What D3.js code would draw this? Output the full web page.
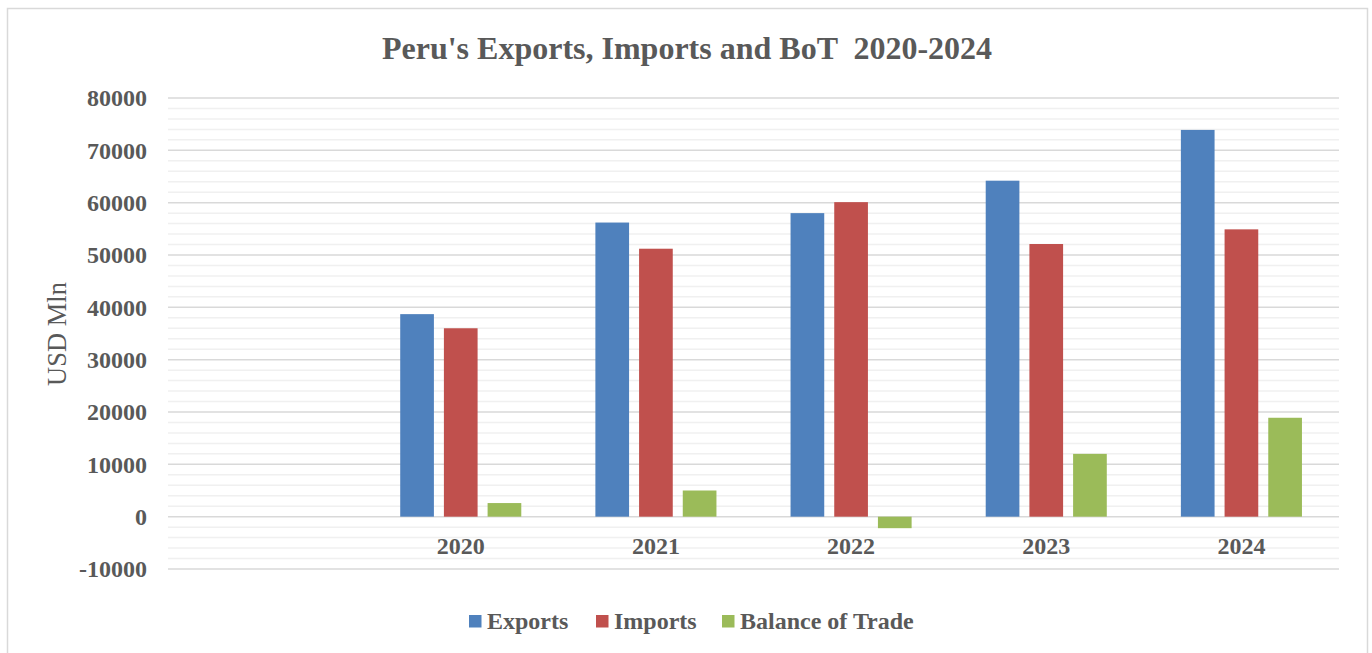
<!DOCTYPE html>
<html><head><meta charset="utf-8">
<script src="https://cdn.jsdelivr.net/npm/d3@7"></script>
<style>
html,body{margin:0;padding:0;background:#fff;}
svg text{font-family:"Liberation Serif","Times New Roman",serif;fill:#595959;}
</style></head>
<body>
<svg id="chart" width="1372" height="653"></svg>
<script>
const categories = ["", "2020", "2021", "2022", "2023", "2024"];
const seriesNames = ["Exports", "Imports", "Balance of Trade"];
const exportsVals = [null, 38700, 56200, 58000, 64200, 73900];
const importsVals = [null, 36000, 51200, 60100, 52100, 54900];
const botVals = [null, 2600, 5000, -2200, 12000, 18900];
const yTicks = [-10000, 0, 10000, 20000, 30000, 40000, 50000, 60000, 70000, 80000];
const colors = ["#4f81bd", "#c0504d", "#9bbb59"];

const svg = d3.select("#chart");
const W = 1372, H = 653;
const m = {left: 168, right: 33, top: 98, bottom: 83};
const pw = W - m.left - m.right, ph = H - m.top - m.bottom;

// outer border
svg.append("rect").attr("x", 7.5).attr("y", 8.5).attr("width", 1360).attr("height", 660)
  .attr("fill", "#fff").attr("stroke", "#d9d9d9").attr("stroke-width", 1.5);

const x = d3.scaleBand().domain(categories).range([m.left, m.left + pw]).paddingInner(0).paddingOuter(0);
const y = d3.scaleLinear().domain([-10000, 80000]).range([m.top + ph - 1, m.top]);
const xs = d3.scaleBand().domain(seriesNames).range([0, x.bandwidth()]).paddingOuter(0.848).paddingInner(0.229);

const g = svg.append("g");
// minor gridlines
const minor = d3.range(-10000, 80001, 2000).filter(v => v % 10000 !== 0);
g.selectAll(".minor").data(minor).enter().append("line")
  .attr("x1", m.left).attr("x2", m.left + pw)
  .attr("y1", d => y(d)).attr("y2", d => y(d))
  .attr("stroke", "#f0f0f0").attr("stroke-width", 1.5);
// major gridlines
g.selectAll(".major").data(yTicks).enter().append("line")
  .attr("x1", m.left).attr("x2", m.left + pw)
  .attr("y1", d => y(d)).attr("y2", d => y(d))
  .attr("stroke", "#d9d9d9").attr("stroke-width", 1.5);

// y axis labels
const yAxis = d3.axisLeft(y).tickValues(yTicks).tickSize(0).tickPadding(0).tickFormat(d => String(d));
const ya = svg.append("g").attr("transform", `translate(147,0)`).call(yAxis);
ya.select(".domain").remove();
ya.selectAll("text").attr("font-size", 24).attr("font-weight", "bold")
  .style("font-family", "'Liberation Serif','Times New Roman',serif").attr("fill", "#595959");

// bars
const series = [exportsVals, importsVals, botVals];
series.forEach((vals, si) => {
  svg.append("g").selectAll("rect")
    .data(categories.map((c, i) => ({c, v: vals[i]})).filter(d => d.v !== null))
    .enter().append("rect")
    .attr("x", d => x(d.c) + xs(seriesNames[si]))
    .attr("width", xs.bandwidth())
    .attr("y", d => y(Math.max(0, d.v)))
    .attr("height", d => Math.abs(y(d.v) - y(0)))
    .attr("fill", colors[si]);
});

// x axis labels
const xAxis = d3.axisBottom(x).tickSize(0).tickPadding(0);
const xa = svg.append("g").attr("transform", `translate(0,${y(0)})`).call(xAxis);
xa.select(".domain").remove();
xa.selectAll("text").attr("font-size", 24).attr("font-weight", "bold").attr("dy", null).attr("y", 37)
  .style("font-family", "'Liberation Serif','Times New Roman',serif").attr("fill", "#595959");

// title
svg.append("text").attr("x", 687).attr("y", 59).attr("text-anchor", "middle")
  .attr("font-size", 32).attr("font-weight", "bold").style("white-space", "pre")
  .text("Peru's Exports, Imports and BoT  2020-2024");

// y axis title
svg.append("text").attr("transform", "translate(66,334) rotate(-90)").attr("text-anchor", "middle")
  .attr("font-size", 26.5).text("USD Mln");

// legend
const legendX = [469, 596, 722];
const lg = svg.append("g");
seriesNames.forEach((s, i) => {
  lg.append("rect").attr("x", legendX[i]).attr("y", 615).attr("width", 12.5).attr("height", 12.5).attr("fill", colors[i]);
  lg.append("text").attr("x", legendX[i] + 18).attr("y", 629).attr("font-size", 24).attr("font-weight", "bold").text(s);
});
</script>
</body></html>
